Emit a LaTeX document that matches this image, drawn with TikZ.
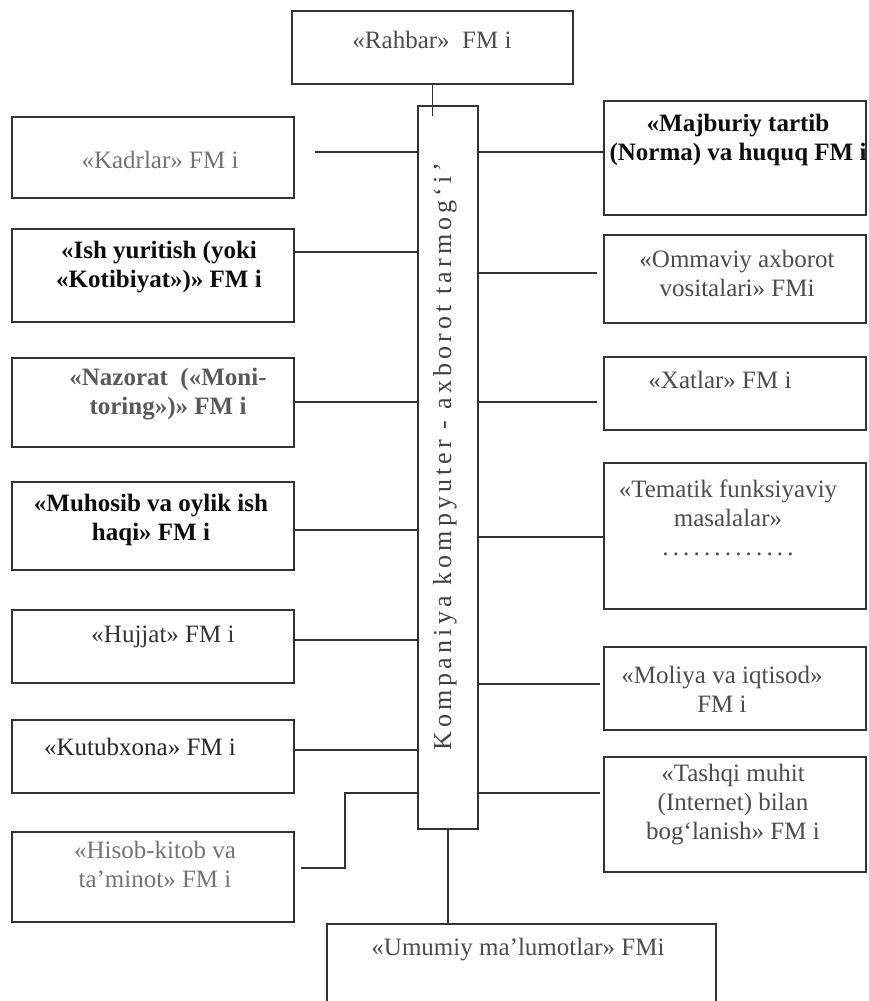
\documentclass[tikz,border=0pt]{standalone}
\usepackage{fontspec}
\setmainfont{Liberation Serif}
\usepackage{tikz}
\usetikzlibrary{positioning,calc}

\tikzset{
  fmbox/.style={draw=black!80,line width=1.1pt,inner sep=0pt},
  fmtxt/.style={align=center,inner sep=0pt,text=black!70,font=\fontsize{25}{29}\selectfont},
  fmbold/.style={fmtxt,text=black!95,font=\fontsize{25}{29}\selectfont\bfseries},
  link/.style={draw=black!80,line width=1.1pt},
}

\begin{document}
\begin{tikzpicture}[x=1pt,y=-1pt]
  \useasboundingbox (0,0) rectangle (869,1001);
  \clip (0,0) rectangle (869,1001);
  % markaz va yuqori/pastki bloklar
  \node[fmbox,minimum width=60pt,minimum height=723pt] (bar) at (448,467.5) {};
  \node[rotate=90,inner sep=0pt,text=black!75,font=\fontsize{26}{26}\selectfont\addfontfeature{LetterSpace=16}] (bart) at (445,457) {Kompaniya kompyuter - axborot tarmog‘i’};
  \node[fmbox,minimum width=281pt,minimum height=73pt] (rah) at (432.5,47.5) {};
  \node[fmtxt] (raht) at (432,40) {«Rahbar»\ \ FM i};
  \node[fmbox,minimum width=389pt,minimum height=91pt] (umu) at (521.5,969.5) {};
  \node[fmtxt] (umut) at (518,950) {«Umumiy ma’lumotlar» FMi};
  % chap ustun
  \node[fmbox,minimum width=282pt,minimum height=81pt] (kad) at (153,157.5) {};
  \node[fmtxt,text=black!55] (kadt) at (160,160) {«Kadrlar» FM i};
  \node[fmbox,minimum width=282pt,minimum height=93pt] (ish) at (153,275.5) {};
  \node[fmbold] (isht) at (159,267) {«Ish yuritish (yoki\\«Kotibiyat»)» FM i};
  \node[fmbox,minimum width=282pt,minimum height=89pt] (naz) at (153,402.5) {};
  \node[fmbold,text=black!65] (nazt) at (168,394) {«Nazorat \ («Moni-\\toring»)» FM i};
  \node[fmbox,minimum width=282pt,minimum height=88pt] (muh) at (153,526) {};
  \node[fmbold] (muht) at (151,520) {«Muhosib va oylik ish\\haqi» FM i};
  \node[fmbox,minimum width=282pt,minimum height=73pt] (huj) at (153,646.5) {};
  \node[fmtxt,text=black!80] (hujt) at (163,637) {«Hujjat» FM i};
  \node[fmbox,minimum width=282pt,minimum height=73pt] (kut) at (153,756.5) {};
  \node[fmtxt,text=black!85] (kutt) at (140,747) {«Kutubxona» FM i};
  \node[fmbox,minimum width=282pt,minimum height=90pt] (his) at (153,877) {};
  \node[fmtxt,text=black!55] (hist) at (155,864) {«Hisob-kitob va\\ta’minot» FM i};
  % o'ng ustun
  \node[fmbox,minimum width=262pt,minimum height=114pt] (maj) at (735,158) {};
  \node[fmbold] (majt) at (738,140) {«Majburiy tartib\\(Norma) va huquq FM i};
  \node[fmbox,minimum width=262pt,minimum height=88pt] (omm) at (735,279) {};
  \node[fmtxt] (ommt) at (737,273) {«Ommaviy axborot\\vositalari» FMi};
  \node[fmbox,minimum width=262pt,minimum height=73pt] (xat) at (735,393.5) {};
  \node[fmtxt] (xatt) at (720,380) {«Xatlar» FM i};
  \node[fmbox,minimum width=262pt,minimum height=146pt] (tem) at (735,536) {};
  \node[fmtxt] (temt) at (728,518) {«Tematik funksiyaviy\\masalalar»\\.\,.\,.\,.\,.\,.\,.\,.\,.\,.\,.\,.\,.};
  \node[fmbox,minimum width=262pt,minimum height=83pt] (mol) at (735,688.5) {};
  \node[fmtxt] (molt) at (722,689) {«Moliya va iqtisod»\\FM i};
  \node[fmbox,minimum width=262pt,minimum height=115pt] (tas) at (735,814.5) {};
  \node[fmtxt] (tast) at (733,805) {«Tashqi muhit\\(Internet) bilan\\bog‘lanish» FM i};
  % bog'lanishlar
  \draw[link] (rah.south) -- ([yshift=-11pt]rah.south |- bar.north);
  \draw[link] (bar.south) -- (bar.south |- umu.north);
  \foreach \n/\y/\g in {kad/152/20,ish/252/0,naz/402/0,muh/530/0,huj/640/0,kut/750/0}
    \draw[link,shorten <=\g pt] (\n.east |- 0,\y) -- (bar.west |- 0,\y);
  \foreach \n/\y/\g in {maj/152/0,omm/273/6,xat/402/6,tem/537/0,mol/684/3,tas/793/3}
    \draw[link,shorten >=\g pt] (bar.east |- 0,\y) -- (\n.west |- 0,\y);
  \coordinate (hbend) at (345,868);
  \draw[link,shorten >=6pt] (bar.west |- 0,793) -| (hbend) -- (his.east |- hbend);
\end{tikzpicture}
\end{document}
